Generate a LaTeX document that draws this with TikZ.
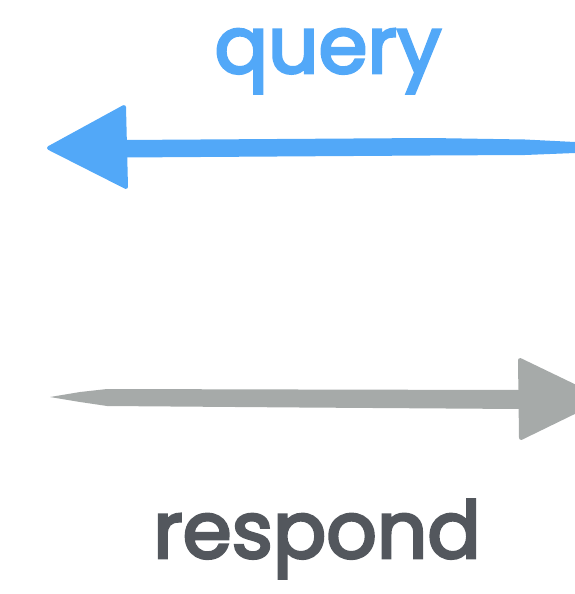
\documentclass[tikz,border=0pt]{standalone}
\usepackage{fontspec}
\newfontfamily\handfont[FakeBold=3.5]{Poppins}
\definecolor{queryblue}{RGB}{82,168,248}
\definecolor{replygray}{RGB}{166,170,169}
\definecolor{labelgray}{RGB}{83,87,93}
\tikzset{
  brush/.style={line join=round, line width=4pt},
  label/.style={font=\fontsize{79}{79}\handfont, anchor=base, inner sep=0pt}
}
\begin{document}
\begin{tikzpicture}[x=1pt, y=-1pt]
  \useasboundingbox (0,0) rectangle (575,594);
  % request arrow, pointing left
  \coordinate (qtip) at (49,148);
  \fill[queryblue] (124,140) -- (430,138) -- (525,139.5) -- (575,142) -- (575,153) -- (525,155) -- (430,155.5) -- (124,157.5) -- cycle;
  \filldraw[queryblue, brush] (qtip) -- (124,107) -- (126,187) -- cycle;
  \node[label, text=queryblue] (query) at (328,73) {query};
  % reply arrow, pointing right
  \coordinate (rstart) at (50,397);
  \coordinate (rtip) at (601,399);
  \fill[replygray] (rstart) -- (80,392) -- (107,389) -- (300,389.5) -- (520,390) -- (520,409) -- (300,407.5) -- (107,406) -- (80,402) -- cycle;
  \filldraw[replygray, brush] (520,360) -- (rtip) -- (521,438) -- cycle;
  \node[label, text=labelgray] (respond) at (317,558) {respond};
\end{tikzpicture}
\end{document}
